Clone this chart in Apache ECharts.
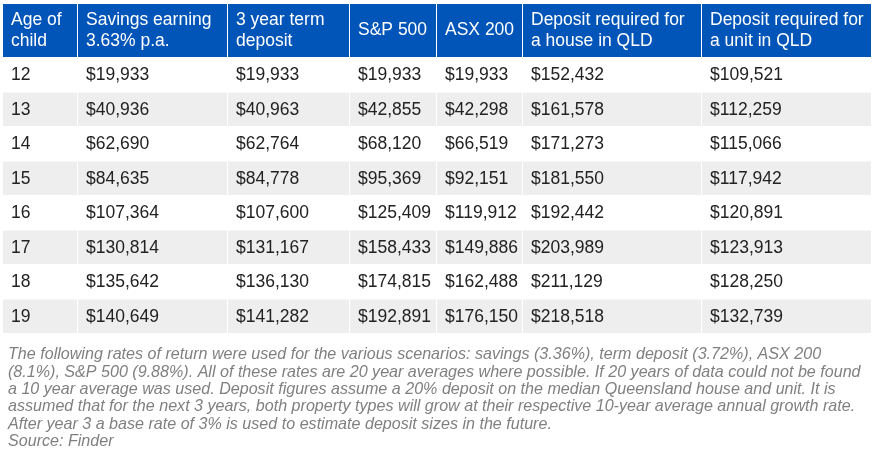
<!DOCTYPE html>
<html>
<head>
<meta charset="utf-8">
<script src="https://cdn.jsdelivr.net/npm/echarts@6/dist/echarts.min.js"></script>
<style>
html,body{margin:0;padding:0;background:#fff;}
#main{width:880px;height:459px;}
</style>
</head>
<body>
<div id="main"></div>
<script>
// ---- data ----
const headers = ['Age of\nchild', 'Savings earning\n3.63% p.a.', '3 year term\ndeposit', 'S&P 500', 'ASX 200', 'Deposit required for\na house in QLD', 'Deposit required for\na unit in QLD'];
const ages = ['12', '13', '14', '15', '16', '17', '18', '19'];
const savings = ['$19,933', '$40,936', '$62,690', '$84,635', '$107,364', '$130,814', '$135,642', '$140,649'];
const termDeposit = ['$19,933', '$40,963', '$62,764', '$84,778', '$107,600', '$131,167', '$136,130', '$141,282'];
const sp500 = ['$19,933', '$42,855', '$68,120', '$95,369', '$125,409', '$158,433', '$174,815', '$192,891'];
const asx200 = ['$19,933', '$42,298', '$66,519', '$92,151', '$119,912', '$149,886', '$162,488', '$176,150'];
const houseQLD = ['$152,432', '$161,578', '$171,273', '$181,550', '$192,442', '$203,989', '$211,129', '$218,518'];
const unitQLD = ['$109,521', '$112,259', '$115,066', '$117,942', '$120,891', '$123,913', '$128,250', '$132,739'];
const footnote = 'The following rates of return were used for the various scenarios: savings (3.36%), term deposit (3.72%), ASX 200\n(8.1%), S&P 500 (9.88%). All of these rates are 20 year averages where possible. If 20 years of data could not be found\na 10 year average was used. Deposit figures assume a 20% deposit on the median Queensland house and unit. It is\nassumed that for the next 3 years, both property types will grow at their respective 10-year average annual growth rate.\nAfter year 3 a base rate of 3% is used to estimate deposit sizes in the future.\nSource: Finder';

// ---- layout ----
const colEdges = [0, 75, 225, 347, 434, 520, 699, 869];
const columns = [ages, savings, termDeposit, sp500, asx200, houseQLD, unitQLD];

const headerData = headers.map((h, c) => [c, 0]);
const bodyData = [];
ages.forEach((a, r) => {
  columns.forEach((col, c) => bodyData.push([c, r]));
});

const FONT = '"Liberation Sans", Arial, sans-serif';

function cellShape(api, col, row) {
  const p0 = api.coord([colEdges[col], row]);
  const p1 = api.coord([colEdges[col + 1], row]);
  const h = api.size([0, 1])[1];
  return { x: p0[0], y: p0[1] - h / 2, width: p1[0] - p0[0], height: h };
}

function renderHeader(params, api) {
  const c = api.value(0);
  const s = cellShape(api, c, 0);
  return {
    type: 'group',
    children: [
      { type: 'rect', shape: { x: s.x, y: s.y, width: s.width - 1, height: s.height }, style: { fill: '#0155b8' } },
      { type: 'text', x: s.x + 8, y: s.y + s.height / 2,
        style: { text: headers[c], fill: '#ffffff', font: '17.5px ' + FONT, lineHeight: 21, verticalAlign: 'middle', align: 'left' } }
    ]
  };
}

function renderBody(params, api) {
  const c = api.value(0), r = api.value(1);
  const s = cellShape(api, c, r);
  const fill = r % 2 === 1 ? '#eeeeee' : '#ffffff';
  return {
    type: 'group',
    children: [
      { type: 'rect', shape: { x: s.x, y: s.y, width: s.width - 1, height: s.height - 1 }, style: { fill: fill } },
      { type: 'text', x: s.x + 8, y: s.y + s.height / 2,
        style: { text: columns[c][r], fill: '#222222', font: '17.5px ' + FONT, verticalAlign: 'middle', align: 'left' } }
    ]
  };
}

const chart = echarts.init(document.getElementById('main'), null, { renderer: 'canvas' });
chart.setOption({
  animation: false,
  backgroundColor: '#ffffff',
  grid: [
    { left: 3, width: 869, top: 4, height: 53 },
    { left: 3, width: 869, top: 58, height: 276 }
  ],
  xAxis: [
    { type: 'value', gridIndex: 0, min: 0, max: 869, show: false },
    { type: 'value', gridIndex: 1, min: 0, max: 869, show: false }
  ],
  yAxis: [
    { type: 'category', gridIndex: 0, data: ['header'], show: false },
    { type: 'category', gridIndex: 1, data: ages, inverse: true, show: false }
  ],
  graphic: [{
    type: 'text', left: 8, top: 346,
    style: { text: footnote, fill: '#808080', font: 'italic 16.1px ' + FONT, lineHeight: 17.4 }
  }],
  series: [
    { type: 'custom', xAxisIndex: 0, yAxisIndex: 0, renderItem: renderHeader, data: headerData, silent: true },
    { type: 'custom', xAxisIndex: 1, yAxisIndex: 1, renderItem: renderBody, data: bodyData, silent: true }
  ]
});
</script>
</body>
</html>
